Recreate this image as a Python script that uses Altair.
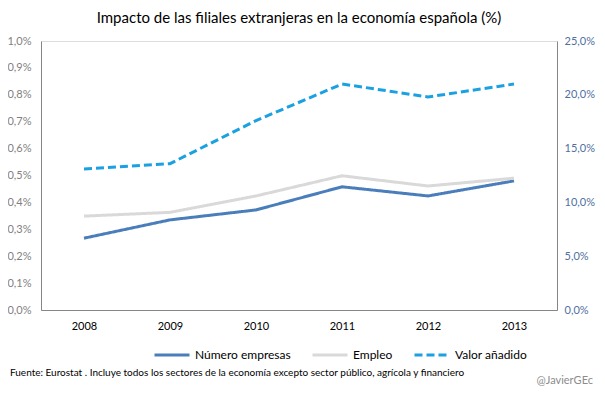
import altair as alt
import pandas as pd

years = ["2008", "2009", "2010", "2011", "2012", "2013"]
numero_empresas = [0.267, 0.335, 0.372, 0.458, 0.424, 0.480]
empleo = [0.349, 0.363, 0.424, 0.499, 0.461, 0.490]
valor_anadido = [13.1, 13.6, 17.6, 21.0, 19.8, 21.0]

series_names = ["Número empresas", "Empleo", "Valor añadido"]
colors = ["#4A7EBB", "#D9D9D9", "#1BA1E2"]

rows = []
for name, vals in zip(series_names, [numero_empresas, empleo, valor_anadido]):
    for y, v in zip(years, vals):
        rows.append({"Año": y, "Serie": name, "Valor": v})
df = pd.DataFrame(rows)

FONT = "Lato"

color_scale = alt.Scale(domain=series_names, range=colors)
dash_scale = alt.Scale(domain=series_names, range=[[1, 0], [1, 0], [8, 4]])

legend = alt.Legend(
    title=None, orient="none", direction="horizontal",
    legendX=112, legendY=295,
    symbolType="stroke", symbolStrokeWidth=3, symbolSize=1225,
    labelFont=FONT, labelFontSize=12, labelColor="#000000",
    columnPadding=15, labelOffset=4,
)

x_enc = alt.X("Año:O", title=None, sort=years,
              axis=alt.Axis(labelAngle=0, labelFont=FONT, labelFontSize=11,
                            labelColor="#000000", ticks=False, domainColor="#868686",
                            labelPadding=10))

label_expr = "replace(format(datum.value, '.1f'), '.', ',') + '%'"

left = alt.Chart(df).transform_filter(
    alt.datum.Serie != "Valor añadido"
).mark_line(strokeWidth=3).encode(
    x=x_enc,
    y=alt.Y("Valor:Q", title=None,
            scale=alt.Scale(domain=[0, 1], nice=False),
            axis=alt.Axis(values=[i / 10 for i in range(11)], grid=False, ticks=False,
                          labelExpr=label_expr,
                          labelFont=FONT, labelFontSize=11, labelColor="#7F7F7F",
                          domainColor="#868686", labelPadding=10)),
    color=alt.Color("Serie:N", scale=color_scale, legend=legend),
    strokeDash=alt.StrokeDash("Serie:N", scale=dash_scale, legend=legend),
)

right = alt.Chart(df).transform_filter(
    alt.datum.Serie == "Valor añadido"
).mark_line(strokeWidth=3).encode(
    x=x_enc,
    y=alt.Y("Valor:Q", title=None,
            scale=alt.Scale(domain=[0, 25], nice=False),
            axis=alt.Axis(orient="right", values=[0, 5, 10, 15, 20, 25], grid=False, ticks=False,
                          labelExpr=label_expr,
                          labelFont=FONT, labelFontSize=11, labelColor="#4F6FA0",
                          domainColor="#868686", labelPadding=7)),
    color=alt.Color("Serie:N", scale=color_scale, legend=legend),
    strokeDash=alt.StrokeDash("Serie:N", scale=dash_scale, legend=legend),
)

notes = pd.DataFrame({
    "t": ["Fuente: Eurostat . Incluye todos los sectores de la economía excepto sector público, agrícola y financiero"],
})
footer = alt.Chart(notes).mark_text(
    align="left", baseline="middle", font=FONT, fontSize=10, color="#000000"
).encode(text="t:N", x=alt.value(-31), y=alt.value(332))

credit = alt.Chart(pd.DataFrame({"t": ["@JavierGEc"]})).mark_text(
    align="right", baseline="middle", font=FONT, fontSize=11, color="#8C8C8C"
).encode(text="t:N", x=alt.value(552), y=alt.value(340))

chart = alt.layer(left, right, footer, credit).resolve_scale(
    y="independent"
).properties(
    width=516, height=269,
    title=alt.TitleParams("Impacto de las filiales extranjeras en la economía española (%)",
                          font=FONT, fontSize=15, fontWeight="normal", color="#000000",
                          anchor="middle", offset=9),
    autosize=alt.AutoSizeParams(type="none"),
    padding={"left": 33, "top": 33, "right": 40, "bottom": 79},
).configure_view(stroke=None).configure(background="#FFFFFF")

chart.save("out.html", embed_options={"renderer": "svg", "actions": False})
